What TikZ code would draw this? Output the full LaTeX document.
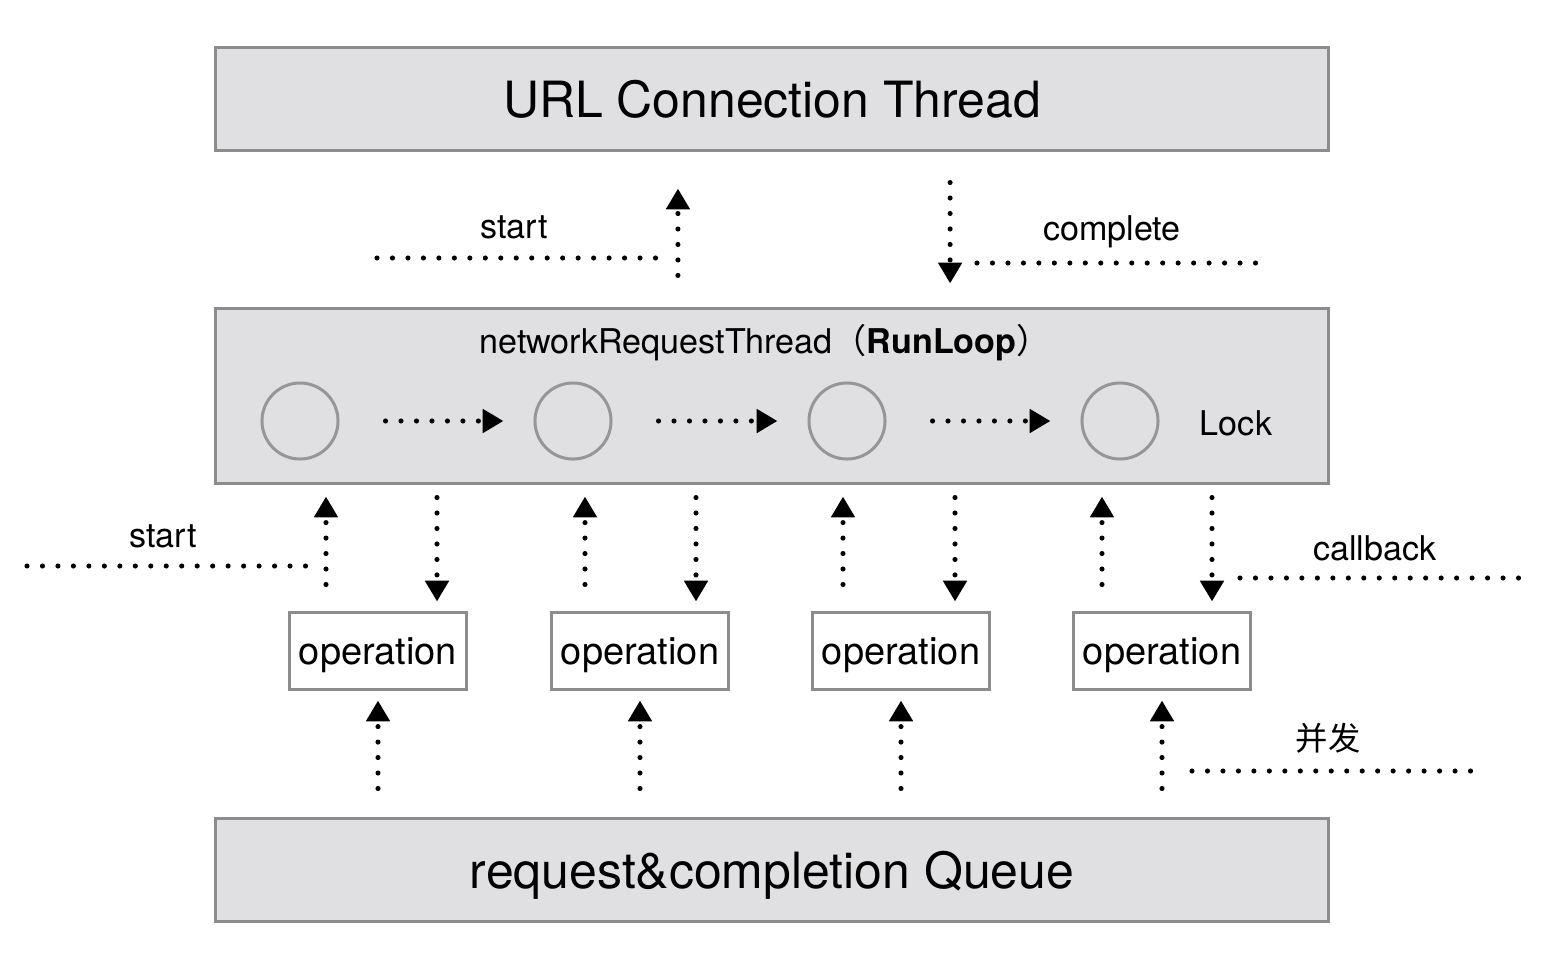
\documentclass[tikz,border=0pt]{standalone}
\usepackage{fontspec}
\setmainfont{TeX Gyre Heros}
\newfontfamily\cjk{Noto Sans CJK SC}
\usetikzlibrary{arrows.meta, calc, positioning}
\definecolor{boxgray}{RGB}{224,224,226}
\definecolor{edgegray}{RGB}{140,140,142}
\definecolor{ringgray}{RGB}{150,150,150}

\begin{document}
\begin{tikzpicture}[x=0.01cm, y=-0.01cm,
    bigbox/.style={draw=edgegray, fill=boxgray, line width=0.85pt, minimum width=11.13cm, minimum height=1.02cm, inner sep=0pt, text depth=0pt, font=\fontsize{14.2}{17}\selectfont},
    ring/.style={circle, draw=ringgray, line width=0.85pt, minimum size=0.76cm, inner sep=0pt},
    opbox/.style={draw=edgegray, fill=white, line width=0.85pt, minimum width=1.76cm, minimum height=0.76cm, inner sep=0pt, text depth=0pt, font=\fontsize{10.8}{13}\selectfont},
    lbl/.style={font=\fontsize{9.7}{12}\selectfont},
    dots/.style={line width=1.45pt, line cap=round, dash pattern=on 0pt off 4.4pt},
    flow/.style={dots, -{Triangle[length=5.9pt, width=6.5pt]}}
]
\useasboundingbox (0,0) rectangle (1557,957);

% threads and queue
\node[bigbox] (url) at (772,99) {URL Connection Thread};
\node[bigbox, minimum height=1.74cm] (thread) at (772,396) {};
\node[lbl] (title) at (765,343) {networkRequestThread{\cjk （}\textbf{RunLoop}{\cjk ）}};
\node[bigbox] (queue) at (772,870) {request\&completion Queue};

% run loop
\foreach \i/\x in {1/300, 2/573, 3/847, 4/1120}
    \node[ring] (c\i) at (\x,421) {};
\foreach \i/\j in {1/2, 2/3, 3/4}
    \draw[flow, shorten <=0.46cm, shorten >=0.3cm] (c\i) -- (c\j);
\node[lbl] (lock) at (1236,423) {Lock};

% operations
\foreach \i/\x in {1/378, 2/640, 3/901, 4/1162}
    \node[opbox] (op\i) at (\x,651) {operation};

\foreach \i/\u/\d in {1/-52/59, 2/-55/56, 3/-58/54, 4/-60/50} {
    \draw[flow] ($(op\i.north)+(\u,-27)$) -- ($(op\i.north |- thread.south)+(\u,12)$);
    \draw[flow] ($(op\i.north |- thread.south)+(\d,13)$) -- ($(op\i.north)+(\d,-10)$);
    \draw[flow] ($(op\i.south |- queue.north)+(0,-29)$) -- ($(op\i.south)+(0,10)$);
}

% thread <-> url connection
\draw[flow] ([xshift=-0.94cm, yshift=0.32cm]thread.north) -- ([xshift=-0.94cm, yshift=-0.37cm]url.south);
\draw[flow] ([xshift=1.78cm, yshift=-0.31cm]url.south) -- ([xshift=1.78cm, yshift=0.24cm]thread.north);

% side notes
\coordinate (topstartA) at (377,258);
\coordinate (topstartB) at (660,258);
\draw[dots] (topstartA) -- (topstartB);
\node[lbl] (topstart) at (514,227) {start};

\coordinate (completeA) at (977,263);
\coordinate (completeB) at (1258,263);
\draw[dots] (completeA) -- (completeB);
\node[lbl] (complete) at (1112,232) {complete};

\coordinate (startA) at (27,566);
\coordinate (startB) at (310,566);
\draw[dots] (startA) -- (startB);
\node[lbl] (start) at (163,536) {start};

\coordinate (callbackA) at (1240,578);
\coordinate (callbackB) at (1520,578);
\draw[dots] (callbackA) -- (callbackB);
\node[lbl] (callback) at (1375,548) {callback};

\coordinate (concurA) at (1192,771);
\coordinate (concurB) at (1473,771);
\draw[dots] (concurA) -- (concurB);
\node[font=\cjk\fontsize{9.2}{11}\selectfont] (concur) at (1328,738) {并发};
\end{tikzpicture}
\end{document}
